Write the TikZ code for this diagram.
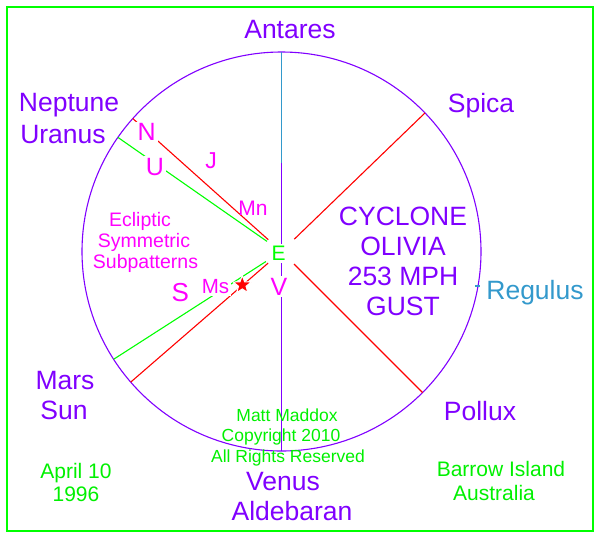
\documentclass[tikz,border=0pt]{standalone}
\usepackage{fontspec}
\setmainfont{Liberation Sans}
\usetikzlibrary{shapes.geometric,calc}
\definecolor{purp}{RGB}{128,0,255}
\definecolor{mag}{RGB}{255,0,255}
\definecolor{grn}{RGB}{0,240,0}
\definecolor{lgrn}{RGB}{0,255,0}
\definecolor{blu}{RGB}{51,153,204}
\definecolor{rd}{RGB}{255,0,0}
\begin{document}
\begin{tikzpicture}[x=1pt,y=-1pt,
  lab/.style={inner sep=0pt, anchor=base},
  big/.style={lab, text=purp, font=\fontsize{26.5}{30}\selectfont},
  gtxt/.style={lab, text=grn, font=\fontsize{21}{24}\selectfont},
  gsmall/.style={lab, text=grn, font=\fontsize{17.5}{20}\selectfont},
  mtxt/.style={lab, text=mag, font=\fontsize{19.5}{21}\selectfont},
  mlet/.style={lab, text=mag, font=\fontsize{25}{28}\selectfont},
  cover/.style={fill=white, inner sep=2pt},
  pxline/.style={line width=1.1pt}]
\useasboundingbox (0,0) rectangle (600,539);
\draw[draw=lgrn, line width=1.3pt] (7,7) rectangle (593,531);
\coordinate (C) at (281.5,251.5);
% circle
\draw[draw=purp, pxline] (C) circle[radius=199.5pt];
% vertical axis
\coordinate (top) at (281.5,52);
\coordinate (mid) at (281.5,163);
\coordinate (bot) at (281.5,451);
\draw[draw=blu, pxline] (top) -- (mid);
\draw[draw=purp, pxline] (mid) -- (bot);
% radial lines
\draw[draw=rd, pxline] ($(C)+(-44:17.7)$) -- ($(C)+(-44:199.5)$);
\draw[draw=rd, pxline] ($(C)+(45:17.7)$) -- ($(C)+(45:199.5)$);
\draw[draw=rd, pxline] ($(C)+(-138.2:17.7)$) -- ($(C)+(-138.2:199.5)$);
\draw[draw=lgrn, pxline] ($(C)+(-145.1:17.7)$) -- ($(C)+(-145.1:199.5)$);
\draw[draw=lgrn, pxline] ($(C)+(147.3:18.5)$) -- ($(C)+(147.3:199.5)$);
\draw[draw=rd, pxline] ($(C)+(139.1:17.7)$) -- ($(C)+(139.1:199.5)$);
% Regulus tick
\coordinate (rt1) at (475,286);
\coordinate (rt2) at (480,286);
\draw[draw=blu, pxline] (rt1) -- (rt2);
% purple labels
\node[big] (antares) at (290,38) {Antares};
\node[big] (spica) at (481,112) {Spica};
\node[big] (neptune) at (69,111.7) {Neptune};
\node[big] (uranus) at (63,143.3) {Uranus};
\node[big] (cyc1) at (403,225) {CYCLONE};
\node[big] (cyc2) at (403,255) {OLIVIA};
\node[big] (cyc3) at (403,285) {253 MPH};
\node[big] (cyc4) at (403,315) {GUST};
\node[big, text=blu] (regulus) at (535,299) {Regulus};
\node[big] (mars) at (65,389.3) {Mars};
\node[big] (sun) at (64,419.3) {Sun};
\node[big] (pollux) at (480,420) {Pollux};
\node[big] (venus) at (283,490) {Venus};
\node[big] (aldebaran) at (292,520.7) {Aldebaran};
% green labels
\node[gtxt] (april) at (76,478.3) {April 10};
\node[gtxt] (year) at (76,501.7) {1996};
\node[gtxt] (barrow) at (501,476.7) {Barrow Island};
\node[gtxt] (aus) at (494,500) {Australia};
\node[gsmall] (matt) at (287,421.7) {Matt Maddox};
\node[gsmall] (copy) at (281,441.7) {Copyright 2010};
\node[gsmall] (rights) at (288,462.3) {All Rights Reserved};
% magenta labels
\node[mtxt] (ecl) at (140,226) {Ecliptic};
\node[mtxt] (sym) at (144,247.7) {Symmetric};
\node[mtxt] (sub) at (145.5,268.3) {Subpatterns};
\node[mlet, cover] (N) at (146.7,140.7) {N};
\node[mlet, cover] (U) at (155,175) {U};
\node[mtxt, font=\fontsize{23}{26}\selectfont] (J) at (211,168.3) {J};
\node[mtxt, font=\fontsize{21}{24}\selectfont] (Mn) at (253,215.7) {Mn};
\node[mtxt, font=\fontsize{20.5}{24}\selectfont, cover] (Ms) at (215.5,293.3) {Ms};
\node[mlet, font=\fontsize{26}{28}\selectfont] (S) at (180.3,301.7) {S};
\node[lab, text=lgrn, font=\fontsize{21}{24}\selectfont, cover] (E) at (278.7,260.7) {E};
\node[mlet, cover] (V) at (279,295) {V};
% star
\node[star, star points=5, star point ratio=2.4, fill=rd, draw=white, line width=1pt, minimum size=19pt, inner sep=0pt] (star) at (242.3,285) {};
\end{tikzpicture}
\end{document}
